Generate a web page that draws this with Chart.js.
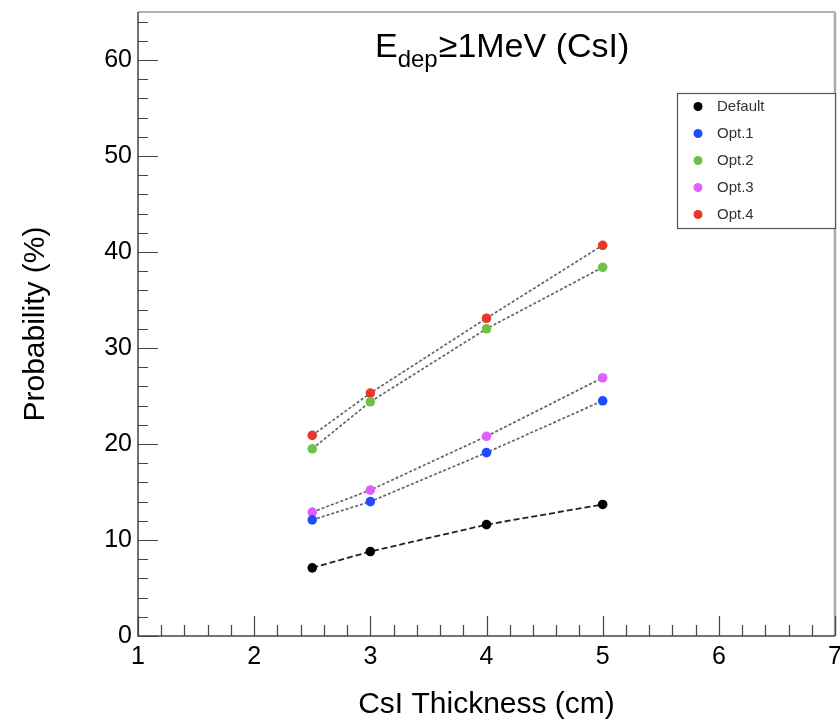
<!DOCTYPE html>
<html>
<head>
<meta charset="utf-8">
<script src="https://cdn.jsdelivr.net/npm/chart.js@4"></script>
<style>
  body { margin: 0; background: #fff; }
  canvas { display: block; }
</style>
</head>
<body>
<canvas id="chart" width="840" height="727"></canvas>
<script>
// CsI thickness in cm
var thickness = [2.5, 3, 4, 5];
// probability (%) for each configuration
var defaultVals = [7.1, 8.8, 11.6, 13.7];
var opt1Vals = [12.1, 14.0, 19.1, 24.5];
var opt2Vals = [19.5, 24.4, 32.0, 38.4];
var opt3Vals = [12.9, 15.2, 20.8, 26.9];
var opt4Vals = [20.9, 25.3, 33.1, 40.7];
var seriesNames = ['Default', 'Opt.1', 'Opt.2', 'Opt.3', 'Opt.4'];
var seriesColors = ['#000000', '#1f4cff', '#6cc24a', '#e060ff', '#e8382a'];

var FONT = '"Liberation Sans", Arial, sans-serif';

function toPoints(vals) {
    return thickness.map(function(x, i) { return {x: x, y: vals[i]}; });
}

function makeSet(idx, vals) {
    var isDefault = idx === 0;
    return {
        label: seriesNames[idx],
        data: toPoints(vals),
        showLine: true,
        borderColor: isDefault ? '#222' : '#666',
        borderWidth: isDefault ? 1.8 : 1.7,
        borderDash: isDefault ? [6, 3] : [3, 2],
        pointRadius: 4.8,
        pointHoverRadius: 4.8,
        pointBackgroundColor: seriesColors[idx],
        pointBorderColor: seriesColors[idx],
        pointBorderWidth: 0
    };
}

// ROOT style frame, ticks, title and legend
var rootStyle = {
    id: 'rootStyle',
    afterDraw: function(chart) {
        var ctx = chart.ctx;
        var a = chart.chartArea;
        var xs = chart.scales.x, ys = chart.scales.y;
        ctx.save();

        // frame
        ctx.strokeStyle = '#999';
        ctx.lineWidth = 1.5;
        ctx.beginPath();
        ctx.moveTo(a.left, a.top); ctx.lineTo(a.right, a.top);
        ctx.stroke();
        ctx.strokeStyle = '#aaa';
        ctx.lineWidth = 2.5;
        ctx.beginPath();
        ctx.moveTo(a.right, a.top); ctx.lineTo(a.right, a.bottom);
        ctx.stroke();
        ctx.strokeStyle = '#444';
        ctx.lineWidth = 1.5;
        ctx.beginPath();
        ctx.moveTo(a.left, a.top); ctx.lineTo(a.left, a.bottom); ctx.lineTo(a.right, a.bottom);
        ctx.stroke();

        // ticks on x
        ctx.strokeStyle = '#444';
        ctx.lineWidth = 1.2;
        ctx.beginPath();
        for (var i = 0; i <= 30; i++) {
            var v = 1 + i * 0.2;
            var px = Math.round(xs.getPixelForValue(v)) + 0.5;
            var len = (i % 5 === 0) ? 20 : 11;
            ctx.moveTo(px, a.bottom);
            ctx.lineTo(px, a.bottom - len);
        }
        // ticks on y
        for (var j = 0; j <= 32; j++) {
            var yv = j * 2;
            var py = Math.round(ys.getPixelForValue(yv)) + 0.5;
            var ylen = (j % 5 === 0) ? 20 : 10;
            ctx.moveTo(a.left, py);
            ctx.lineTo(a.left + ylen, py);
        }
        ctx.stroke();

        // title E_dep >= 1MeV (CsI)
        ctx.fillStyle = '#000';
        ctx.textBaseline = 'alphabetic';
        ctx.textAlign = 'left';
        var tx = 375, ty = 57;
        ctx.font = '34px ' + FONT;
        ctx.fillText('E', tx, ty);
        tx += ctx.measureText('E').width;
        ctx.font = '24px ' + FONT;
        ctx.fillText('dep', tx, ty + 10);
        tx += ctx.measureText('dep').width + 1;
        ctx.font = '34px ' + FONT;
        ctx.fillText('\u22651MeV (CsI)', tx, ty);

        // legend box
        var lx = 677, ly = 93, lw = 158, lh = 135;
        ctx.fillStyle = '#fff';
        ctx.fillRect(lx, ly, lw, lh);
        ctx.strokeStyle = '#555';
        ctx.lineWidth = 1.2;
        ctx.strokeRect(lx + 0.5, ly + 0.5, lw, lh);
        ctx.font = '15px ' + FONT;
        ctx.textBaseline = 'middle';
        chart.data.datasets.forEach(function(ds, k) {
            var cy = ly + 13.5 + k * 27;
            ctx.fillStyle = ds.pointBackgroundColor;
            ctx.beginPath();
            ctx.arc(lx + 21, cy, 4.5, 0, Math.PI * 2);
            ctx.fill();
            ctx.fillStyle = '#333';
            ctx.fillText(ds.label, lx + 40, cy);
        });
        ctx.restore();
    }
};

function zeroPad(scale) {
    scale.paddingLeft = 0;
    scale.paddingRight = 0;
    scale.paddingTop = 0;
    scale.paddingBottom = 0;
}

var chart = new Chart(document.getElementById('chart'), {
    type: 'scatter',
    data: {
        datasets: [
            makeSet(0, defaultVals),
            makeSet(1, opt1Vals),
            makeSet(2, opt2Vals),
            makeSet(3, opt3Vals),
            makeSet(4, opt4Vals)
        ]
    },
    options: {
        responsive: false,
        animation: false,
        layout: { padding: { left: 0, right: 5, top: 12, bottom: 0 } },
        plugins: {
            legend: { display: false },
            tooltip: { enabled: false }
        },
        scales: {
            x: {
                type: 'linear',
                min: 1,
                max: 7,
                grid: { display: false, drawTicks: false },
                border: { display: false },
                ticks: {
                    stepSize: 1,
                    includeBounds: false,
                    padding: 6,
                    color: '#000',
                    font: { family: FONT, size: 25 }
                },
                title: {
                    display: true,
                    text: 'CsI Thickness (cm)',
                    color: '#000',
                    font: { family: FONT, size: 30 },
                    padding: { top: 0, bottom: 4 }
                },
                afterFit: function(scale) {
                    scale.height = 91;
                    zeroPad(scale);
                }
            },
            y: {
                type: 'linear',
                min: 0,
                max: 65,
                grid: { display: false, drawTicks: false },
                border: { display: false },
                ticks: {
                    stepSize: 10,
                    includeBounds: false,
                    padding: 6,
                    color: '#000',
                    font: { family: FONT, size: 25 }
                },
                title: {
                    display: true,
                    text: 'Probability (%)',
                    color: '#000',
                    font: { family: FONT, size: 30 },
                    padding: { top: 18, bottom: 0 }
                },
                afterFit: function(scale) {
                    scale.width = 138;
                    zeroPad(scale);
                }
            }
        }
    },
    plugins: [rootStyle]
});
</script>
</body>
</html>
